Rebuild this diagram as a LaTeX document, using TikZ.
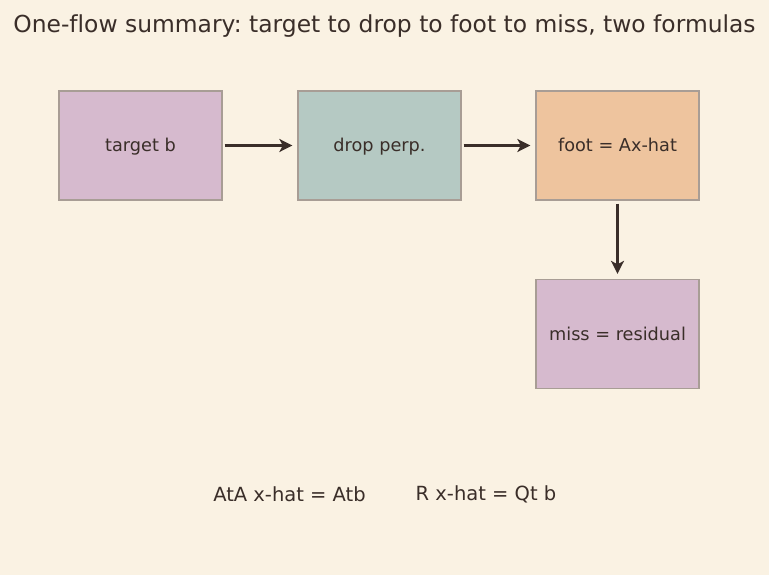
\documentclass[tikz,border=0pt]{standalone}
\usepackage{fontspec}
\setmainfont{DejaVu Sans}[Ligatures=NoCommon]
\usepackage{tikz}
\usetikzlibrary{arrows.meta, positioning}
\definecolor{paper}{HTML}{FAF2E3}
\definecolor{ink}{HTML}{3A2E29}
\definecolor{edgegray}{HTML}{A89D95}
\definecolor{mauve}{HTML}{D6BACE}
\definecolor{sage}{HTML}{B5C9C3}
\definecolor{peach}{HTML}{EEC49E}
\frenchspacing

\begin{document}
\begin{tikzpicture}[x=1pt, y=-1pt,
    box/.style={rectangle, draw=edgegray, line width=1.3pt, minimum width=163pt, minimum height=109pt, align=center, text=ink, font=\fontsize{17.7}{21}\selectfont, inner sep=0pt, text height=16pt, text depth=3pt},
    arr/.style={-{Stealth[length=13pt, width=13pt, inset=3.5pt]}, line width=2.8pt, ink}]

  % canvas
  \fill[paper] (0,0) rectangle (769,575);
  \useasboundingbox (0,0) rectangle (769,575);

  % title
  \node[text=ink, font=\fontsize{23.4}{27}\selectfont] (title) at (384.5, 26.5) {One-flow summary: target to drop to foot to miss, two formulas};

  % boxes
  \node[box, fill=mauve] (target) at (140.5, 145.5) {target b};
  \node[box, fill=sage] (drop) at (379.5, 145.5) {drop perp.};
  \node[box, fill=peach] (foot) at (617.5, 145.5) {foot = Ax-hat};
  \node[box, fill=mauve] (miss) at (617.5, 334) {miss = residual};

  % flow
  \draw[arr, shorten <=2pt, shorten >=5pt] (target) -- (drop);
  \draw[arr, shorten <=2pt, shorten >=5pt] (drop) -- (foot);
  \draw[arr, shorten <=3pt, shorten >=5pt] (foot) -- (miss);

  % formulas
  \node[text=ink, font=\fontsize{19.5}{23}\selectfont] (normaleq) at (289.5, 494) {AtA x-hat = Atb};
  \node[text=ink, font=\fontsize{19.5}{23}\selectfont] (qreq) at (486, 494) {R x-hat = Qt b};
\end{tikzpicture}
\end{document}
